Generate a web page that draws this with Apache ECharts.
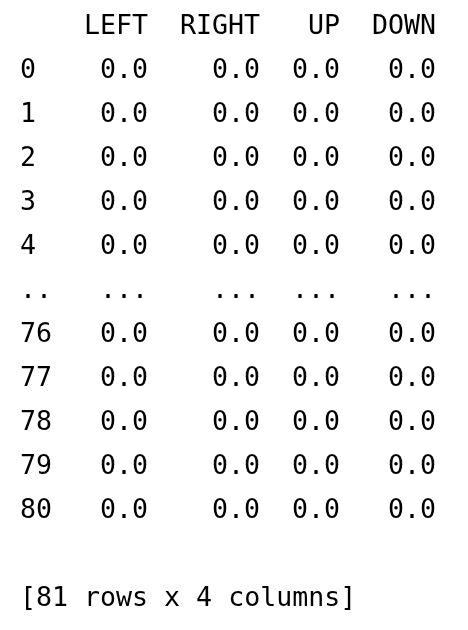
<!DOCTYPE html>
<html>
<head>
<meta charset="utf-8">
<script src="https://cdn.jsdelivr.net/npm/echarts@6/dist/echarts.min.js"></script>
<style>
html,body{margin:0;padding:0;background:#fff;}
#c{width:468px;height:630px;}
</style>
</head>
<body>
<div id="c"></div>
<script>
// ---- data ----
const columns = ['LEFT', 'RIGHT', 'UP', 'DOWN'];
const rowLabels = ['0', '1', '2', '3', '4', '..', '76', '77', '78', '79', '80'];
const LEFT  = [0.0, 0.0, 0.0, 0.0, 0.0, null, 0.0, 0.0, 0.0, 0.0, 0.0];
const RIGHT = [0.0, 0.0, 0.0, 0.0, 0.0, null, 0.0, 0.0, 0.0, 0.0, 0.0];
const UP    = [0.0, 0.0, 0.0, 0.0, 0.0, null, 0.0, 0.0, 0.0, 0.0, 0.0];
const DOWN  = [0.0, 0.0, 0.0, 0.0, 0.0, null, 0.0, 0.0, 0.0, 0.0, 0.0];
const footer = '[81 rows x 4 columns]';

// ---- build table like pandas text output ----
const values = [LEFT, RIGHT, UP, DOWN];
const fmt = v => (v === null ? '...' : v.toFixed(1));
const idxWidth = Math.max(...rowLabels.map(s => s.length));
const colEnds = [];
let pos = idxWidth;
columns.forEach((c, j) => {
  const w = Math.max(c.length, ...values[j].map(v => fmt(v).length));
  pos += 2 + w;
  colEnds.push(pos);
});
const totalChars = pos;

const lines = ['hdr', ...rowLabels.map((r, i) => 'r' + i), 'blank', 'footer'];
const cells = []; // [x, lineIndex, text, align]
columns.forEach((c, j) => cells.push([colEnds[j], 0, c, 'right']));
rowLabels.forEach((r, i) => {
  cells.push([0, i + 1, r, 'left']);
  values.forEach((arr, j) => cells.push([colEnds[j], i + 1, fmt(arr[i]), 'right']));
});
cells.push([0, lines.length - 1, footer, 'left']);

const chart = echarts.init(document.getElementById('c'), null, {renderer: 'canvas'});
const FONT = '"DejaVu Sans Mono", "Liberation Mono", monospace';
chart.setOption({
  backgroundColor: '#ffffff',
  animation: false,
  grid: {left: 20, top: 5, width: 416, height: 616},
  xAxis: {type: 'value', min: 0, max: totalChars, show: false},
  yAxis: {type: 'category', data: lines, inverse: true, show: false},
  series: [{
    type: 'custom',
    data: cells.map(c => [c[0], c[1]]),
    renderItem: function (params, api) {
      const cell = cells[params.dataIndex];
      const p = api.coord([api.value(0), api.value(1)]);
      return {
        type: 'text',
        x: p[0],
        y: p[1],
        style: {
          text: cell[2],
          fill: '#000000',
          font: '26.6px ' + FONT,
          align: cell[3],
          verticalAlign: 'middle'
        }
      };
    }
  }]
});
</script>
</body>
</html>
